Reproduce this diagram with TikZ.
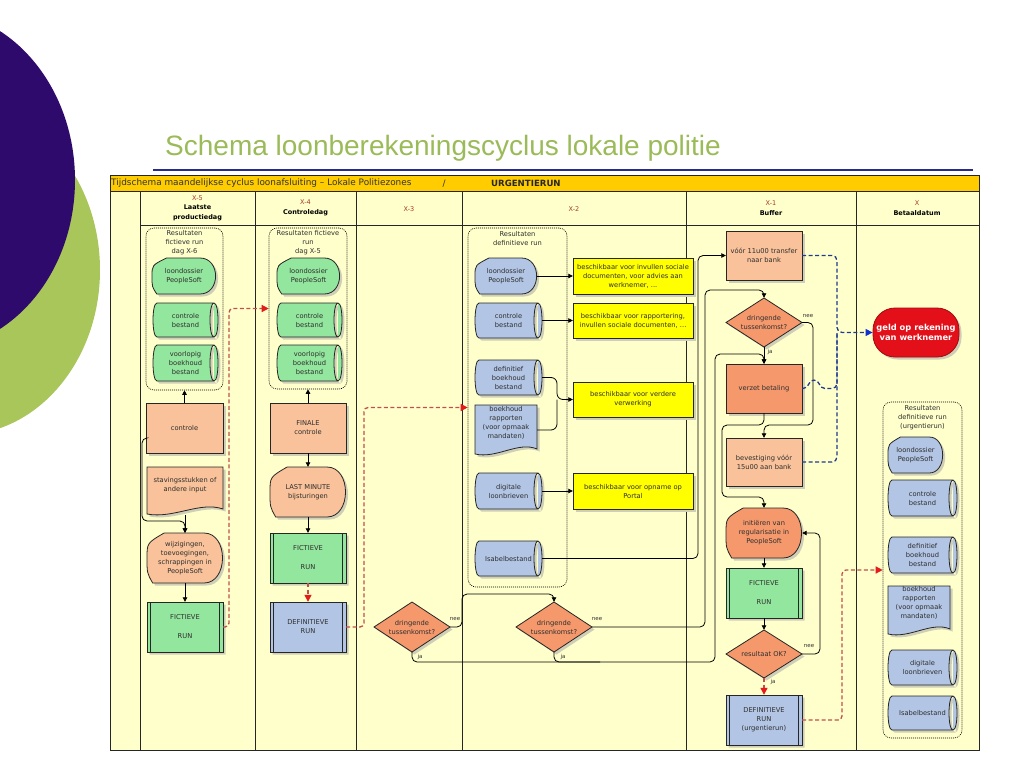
\documentclass[tikz,border=0pt]{standalone}
\usepackage{fontspec}
\setmainfont{DejaVu Sans}
\newfontfamily\titlefont{Liberation Sans}
\usetikzlibrary{arrows.meta}
\definecolor{bgyellow}{HTML}{FFFFCC}
\definecolor{barGold}{HTML}{FFCC00}
\definecolor{gnode}{HTML}{93E69D}
\definecolor{bnode}{HTML}{B2C5E4}
\definecolor{pnode}{HTML}{F9C29A}
\definecolor{onode}{HTML}{F5996D}
\definecolor{ynode}{HTML}{FFFF00}
\definecolor{rnode}{HTML}{E3101A}
\definecolor{shadowc}{HTML}{CFCFB8}
\definecolor{txtc}{HTML}{2E2E2E}
\definecolor{hdred}{HTML}{A5382E}
\definecolor{dashred}{HTML}{C0504D}
\definecolor{arrowred}{HTML}{E31B1B}
\definecolor{dashblue}{HTML}{1F3A8F}
\definecolor{arrowblue}{HTML}{1030D0}
\definecolor{titlegreen}{HTML}{9BBB59}
\definecolor{purp}{HTML}{2E0A6C}
\definecolor{leaf}{HTML}{A9C65B}
\definecolor{navyline}{HTML}{2A2A8A}
% shape outlines relative to centre (y grows downward)
\def\rectpath{(-\shw,-\shh) rectangle (\shw,\shh)}
\def\diapath{(-\shw,0) -- (0,-\shh) -- (\shw,0) -- (0,\shh) -- cycle}
\def\predpath{(-\shw,-\shh) rectangle (\shw,\shh) (-\shw+3.5,-\shh) -- (-\shw+3.5,\shh) (\shw-3.5,-\shh) -- (\shw-3.5,\shh)}
\def\cylpath{(-\shw+4,-\shh) -- (\shw-4,-\shh) .. controls (\shw+1.33,-\shh) and (\shw+1.33,\shh) .. (\shw-4,\shh) -- (-\shw+4,\shh) .. controls (-\shw-1.33,\shh) and (-\shw-1.33,-\shh) .. (-\shw+4,-\shh) -- cycle (\shw-4,-\shh) .. controls (\shw-9.33,-\shh) and (\shw-9.33,\shh) .. (\shw-4,\shh)}
\def\docpath{(-\shw,-\shh) -- (\shw,-\shh) -- (\shw,\shh-6) .. controls (0.4*\shw,\shh-14) and (-0.3*\shw,\shh+4) .. (-\shw,\shh-1) -- cycle}
\def\disppath{(-0.55*\shw,-\shh) -- (0.5*\shw,-\shh) .. controls (1.15*\shw,-\shh) and (1.15*\shw,\shh) .. (0.5*\shw,\shh) -- (-0.85*\shw,\shh) .. controls (-\shw,0.6*\shh) .. (-\shw,0) .. controls (-\shw,-0.6*\shh) .. (-0.55*\shw,-\shh) -- cycle}
\newcommand\myshape[8]{%
  \pgfmathsetmacro\shw{#5/2}%
  \pgfmathsetmacro\shh{#6/2}%
  \fill[shadowc, shift={(#3+2.5,#4+2.5)}] #1;
  \draw[shapeline, fill=#7, shift={(#3,#4)}] #1;
  \node[txt, minimum width=#5, minimum height=#6] (#2) at (#3,#4) {#8};
}
\begin{document}
\begin{tikzpicture}[x=1pt,y=-1pt,
  txt/.style={align=center, inner sep=0, text=txtc, font=\fontsize{6.7}{9}\selectfont},
  hd/.style={align=center, inner sep=0, text=black, font=\fontsize{6.5}{9.5}\selectfont},
  lbl/.style={inner sep=0, text=txtc, font=\fontsize{5.5}{6}\selectfont},
  shapeline/.style={draw=black!85, line width=0.8},
  cont/.style={draw=black, line width=0.6, dash pattern=on 1pt off 1pt, rounded corners=8, inner sep=0},
  gridline/.style={draw=black!85, line width=0.9},
  conn/.style={draw=black, line width=0.8, rounded corners=5, -{Triangle[length=4.5pt,width=4.5pt]}},
  plain/.style={draw=black, line width=0.8, rounded corners=5},
  rdash/.style={draw=dashred, line width=1.3, dash pattern=on 4pt off 2.5pt, rounded corners=4, -{Triangle[length=7pt,width=7pt,color=arrowred]}},
  bdash/.style={draw=dashblue, line width=1.3, dash pattern=on 4pt off 2.5pt, rounded corners=5},
  pill/.style={fill=rnode, draw=rnode!70!black, line width=0.8, rounded corners=22, minimum width=86, minimum height=49, inner sep=0, align=center, text=white, font=\bfseries\fontsize{8.3}{10}\selectfont}
]
\fill[white] (0,0) rectangle (1024,768);
\useasboundingbox (0,0) rectangle (1024,768);
\begin{scope}
\clip (0,0) rectangle (1024,768);
\fill[leaf] (-40,270) ellipse [x radius=140, y radius=165];
\fill[purp] (-70,180) ellipse [x radius=145, y radius=170];
\end{scope}

% title
\node[anchor=base west, inner sep=0, text=titlegreen, font=\titlefont\fontsize{28}{30}\selectfont] (title) at (165,155) {Schema loonberekeningscyclus lokale politie};
\draw[navyline, line width=1.3] (153,170) -- (973,170);

% frame
\fill[bgyellow] (110,175) rectangle (979,750);
\fill[barGold] (110,175) rectangle (979,191);
\draw[gridline] (110,191) -- (979,191);
\draw[gridline] (140,225) -- (979,225);
\foreach \xx in {140,255,356,462,686,856} \draw[gridline] (\xx,191) -- (\xx,750);
\draw[gridline] (110,175) rectangle (979,750);

\node[anchor=west, inner sep=0, font=\fontsize{8.9}{9}\selectfont, text=black!80] (hb1) at (111,183.5) {Tijdschema maandelijkse cyclus loonafsluiting – Lokale Politiezones};
\node[inner sep=0, font=\fontsize{8.9}{9}\selectfont, text=black!80] (hb2) at (444,183.5) {/};
\node[anchor=west, inner sep=0, font=\bfseries\fontsize{8.6}{9}\selectfont, text=black!85] (hb3) at (491,183.5) {URGENTIERUN};

% column headers
\node[hd] (h5) at (197.5,208) {\textcolor{hdred}{X-5}\\\textbf{Laatste}\\\textbf{productiedag}};
\node[hd] (h4) at (305.5,208) {\textcolor{hdred}{X-4}\\\textbf{Controledag}};
\node[hd] (h3) at (409,209) {\textcolor{hdred}{X-3}};
\node[hd] (h2) at (574,209) {\textcolor{hdred}{X-2}};
\node[hd] (h1) at (771,208) {\textcolor{hdred}{X-1}\\\textbf{Buffer}};
\node[hd] (hX) at (917,208) {\textcolor{hdred}{X}\\\textbf{Betaaldatum}};

% ---- X-5
\node[cont, minimum width=77, minimum height=162] (box5) at (184.5,309) {};
\node[txt] (lb5) at (184.5,243) {Resultaten\\fictieve run\\dag X-6};
\myshape{\disppath}{ld5}{184}{276}{64}{36}{gnode}{loondossier\\PeopleSoft}
\myshape{\cylpath}{cb5}{185.5}{320}{65}{34}{gnode}{controle\\bestand}
\myshape{\cylpath}{vb5}{185.5}{363}{65}{36}{gnode}{voorlopig\\boekhoud\\bestand}
\myshape{\rectpath}{c5}{184.5}{428}{77}{50}{pnode}{controle}
\myshape{\docpath}{st5}{185}{491}{76}{48}{pnode}{}
\node[txt] (st5t) at (185,485) {stavingsstukken of\\andere input};
\myshape{\disppath}{wz5}{185}{558}{76}{50}{pnode}{wijzigingen,\\toevoegingen,\\schrappingen in\\PeopleSoft}
\myshape{\predpath}{f5}{185}{627}{76}{50}{gnode}{FICTIEVE\\[10pt]RUN}

% ---- X-4
\node[cont, minimum width=78, minimum height=161] (box4) at (308,308.5) {};
\node[txt] (lb4) at (308,243) {Resultaten fictieve\\run\\dag X-5};
\myshape{\disppath}{ld4}{308.5}{276}{63}{36}{gnode}{loondossier\\PeopleSoft}
\myshape{\cylpath}{cb4}{309.5}{320}{65}{34}{gnode}{controle\\bestand}
\myshape{\cylpath}{vb4}{309.5}{363}{65}{36}{gnode}{voorlopig\\boekhoud\\bestand}
\myshape{\rectpath}{fc4}{308}{428}{76}{50}{pnode}{FINALE\\controle}
\myshape{\disppath}{lm4}{308}{492}{76}{50}{pnode}{LAST MINUTE\\bijsturingen}
\myshape{\predpath}{f4}{308}{558}{76}{50}{gnode}{FICTIEVE\\[10pt]RUN}
\myshape{\predpath}{d4}{308}{627}{76}{50}{bnode}{DEFINITIEVE\\RUN}

% ---- X-3
\myshape{\diapath}{d3}{412}{627}{76}{50}{onode}{dringende\\tussenkomst?}

% ---- X-2
\node[cont, minimum width=99, minimum height=359] (box2) at (517.5,407.5) {};
\node[txt] (lb2) at (517.5,238) {Resultaten\\definitieve run};
\myshape{\disppath}{ld2}{506}{276}{62}{36}{bnode}{loondossier\\PeopleSoft}
\myshape{\cylpath}{cb2}{508.5}{320.5}{67}{35}{bnode}{controle\\bestand}
\myshape{\cylpath}{db2}{508.5}{377.5}{67}{35}{bnode}{definitief\\boekhoud\\bestand}
\myshape{\docpath}{br2}{506}{430}{62}{50}{bnode}{}
\node[txt] (br2t) at (506,423) {boekhoud\\rapporten\\(voor opmaak\\mandaten)};
\myshape{\cylpath}{dl2}{508.5}{491}{67}{36}{bnode}{digitale\\loonbrieven}
\myshape{\cylpath}{ib2}{508.5}{558.5}{67}{35}{bnode}{Isabelbestand}
\myshape{\rectpath}{y1}{633}{276}{120}{36}{ynode}{beschikbaar voor invullen sociale\\documenten, voor advies aan\\werknemer, ...}
\myshape{\rectpath}{y2}{633}{320.5}{120}{35}{ynode}{beschikbaar voor rapportering,\\invullen sociale documenten, ...}
\myshape{\rectpath}{y3}{633}{399.5}{120}{35}{ynode}{beschikbaar voor verdere\\verwerking}
\myshape{\rectpath}{y4}{633}{491}{120}{36}{ynode}{beschikbaar voor opname op\\Portal}
\myshape{\diapath}{d2x}{554}{627}{76}{50}{onode}{dringende\\tussenkomst?}

% ---- X-1
\myshape{\rectpath}{v11}{764}{255.5}{76}{49}{pnode}{vóór 11u00 transfer\\naar bank}
\myshape{\diapath}{dx1}{764}{322.5}{76}{49}{onode}{dringende\\tussenkomst?}
\myshape{\rectpath}{vz}{764}{388.5}{76}{49}{onode}{verzet betaling}
\myshape{\rectpath}{bv}{764}{462}{76}{48}{pnode}{bevestiging vóór\\15u00 aan bank}
\myshape{\disppath}{ini}{764}{533}{76}{50}{onode}{initiëren van\\regularisatie in\\PeopleSoft}
\myshape{\predpath}{fx1}{764}{593}{76}{50}{gnode}{FICTIEVE\\[10pt]RUN}
\myshape{\diapath}{dok}{764}{654}{76}{48}{onode}{resultaat OK?}
\myshape{\predpath}{dfu}{764}{720}{76}{50}{bnode}{DEFINITIEVE\\RUN\\(urgentierun)}

% ---- X
\fill[shadowc, rounded corners=22] (875.5,310.5) rectangle (961.5,359.5);
\node[pill] (geld) at (916,332.5) {geld op rekening\\van werknemer};
\node[cont, minimum width=79, minimum height=336] (boxX) at (922.5,570) {};
\node[txt] (lbX) at (922.5,417.5) {Resultaten\\definitieve run\\(urgentierun)};
\myshape{\disppath}{ldX}{915.5}{455}{55}{36}{bnode}{loondossier\\PeopleSoft}
\myshape{\cylpath}{cbX}{922.5}{498}{69}{36}{bnode}{controle\\bestand}
\myshape{\cylpath}{dbX}{922.5}{555}{69}{36}{bnode}{definitief\\boekhoud\\bestand}
\myshape{\docpath}{brX}{919}{610.5}{62}{49}{bnode}{}
\node[txt] (brXt) at (919,603) {boekhoud\\rapporten\\(voor opmaak\\mandaten)};
\myshape{\cylpath}{dlX}{922.5}{667.5}{69}{35}{bnode}{digitale\\loonbrieven}
\myshape{\cylpath}{ibX}{922.5}{713}{69}{34}{bnode}{Isabelbestand}

% ---- connectors X-5 / X-4
\draw[conn] (c5.north) -- (box5.south);
\draw[conn] ([yshift=-10pt]c5.west) -- (142,438) -- (142,521) -- (185,521) -- (wz5.north);
\draw[conn] (st5.south) -- (wz5.north);
\draw[conn] (wz5.south) -- (f5.north);
\draw[rdash] (f5.east) -- (229,627) -- (229,308.5) -- (box4.west);
\draw[conn] (fc4.north) -- (box4.south);
\draw[conn] (fc4.south) -- (lm4.north);
\draw[conn] (lm4.south) -- (f4.north);
\draw[rdash] (f4.south) -- (d4.north);
\draw[rdash] (d4.east) -- (364,627) -- (364,407.5) -- (box2.west);

% ---- X-3 / X-2 decisions
\draw[conn] (d3.east) -- (462,627) -- (462,594) -- (554,594) -- (d2x.north);
\node[lbl] (n3) at (455,619) {nee};
\draw[conn] (d3.south) -- (412,662) -- (715,662) -- (715,354) -- (764,354) -- (vz.north);
\node[lbl] (j3) at (420,657) {ja};
\draw[plain] (d2x.south) -- (554,662) -- (600,662);
\node[lbl] (j2) at (563,657) {ja};
\draw[conn] (d2x.east) -- (705,627) -- (705,290) -- (764,290) -- (dx1.north);
\node[lbl] (n2) at (597,619) {nee};

% ---- X-2 outputs
\draw[conn] (ld2.east) -- (y1.west);
\draw[conn] (cb2.east) -- (y2.west);
\draw[conn, rounded corners=6] (db2.east) -- (557,377.5) -- (557,399.5) -- (y3.west);
\draw[plain, rounded corners=6] (br2.east) -- (557,430) -- (557,399.5);
\draw[conn] (dl2.east) -- (y4.west);
\draw[conn] (ib2.east) -- (698,558.5) -- (698,255.5) -- (v11.west);

% ---- X-1 flow
\draw[conn] (dx1.south) -- (vz.north);
\node[lbl] (j1) at (770,352) {ja};
\draw[conn] (dx1.east) -- (813,322.5) -- (813,425) -- (764,425) -- (bv.north);
\node[lbl] (n1) at (808,316) {nee};
\draw[conn] (vz.south) -- (764,425) -- (722,425) -- (722,497) -- (764,497) -- (ini.north);
\draw[conn] (ini.south) -- (fx1.north);
\draw[conn] (fx1.south) -- (dok.north);
\draw[conn] (dok.east) -- (820,654) -- (820,533) -- (ini.east);
\node[lbl] (n0) at (809,646) {nee};
\draw[rdash] (dok.south) -- (dfu.north);
\node[lbl] (j0) at (773,682) {ja};
\draw[rdash] (dfu.east) -- (842,720) -- (842,570) -- (boxX.west);

% ---- blue dashed to payment
\draw[bdash, -{Triangle[length=7pt,width=7pt,color=arrowblue]}] (v11.east) -- (837,255.5) -- (837,332.5) -- (geld.west);
\draw[bdash] (vz.east) -- (808,388.5) .. controls (810,379) and (818,379) .. (820,388.5) -- (837,388.5) -- (837,333);
\draw[bdash] (bv.east) -- (837,462) -- (837,333);
\end{tikzpicture}
\end{document}
